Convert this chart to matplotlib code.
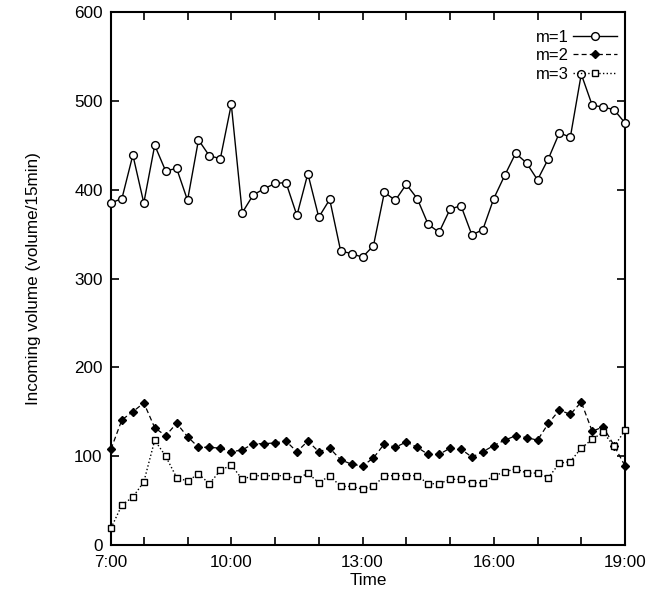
import numpy as np
import matplotlib.pyplot as plt

plt.rcParams['font.family'] = ['Liberation Sans', 'DejaVu Sans']

# 15-minute slots, 7:15 .. 19:00 (minutes after 7:00)
slot_minutes = np.arange(15, 721, 15)

vol_m1 = [385, 390, 439, 385, 450, 421, 424, 388, 456, 438, 435, 496,
          374, 394, 401, 407, 408, 371, 418, 369, 389, 331, 328, 324,
          337, 397, 388, 406, 390, 361, 352, 378, 382, 349, 355, 390,
          416, 441, 430, 411, 435, 464, 459, 530, 495, 493, 490, 475]
vol_m2 = [108, 141, 150, 160, 132, 123, 137, 122, 110, 110, 109, 105,
          107, 114, 114, 115, 117, 105, 117, 105, 109, 96, 91, 89,
          98, 114, 110, 116, 110, 102, 102, 109, 108, 99, 105, 112,
          118, 123, 121, 118, 137, 152, 147, 161, 128, 133, 112, 89]
vol_m3 = [19, 45, 54, 71, 118, 100, 76, 72, 80, 69, 84, 90,
          74, 78, 78, 78, 78, 74, 81, 70, 78, 66, 66, 63,
          66, 78, 78, 78, 78, 69, 69, 74, 74, 70, 70, 78,
          82, 86, 81, 81, 76, 92, 94, 109, 119, 127, 111, 129]

hour_ticks = [15, 60, 120, 180, 240, 300, 360, 420, 480, 540, 600, 660, 720]
hour_labels = ['7:00', '', '', '10:00', '', '', '13:00', '', '', '16:00', '', '', '19:00']

fig = plt.figure(figsize=(6.63, 5.93), dpi=100)
ax = fig.add_axes([0.1674, 0.0809, 0.7753, 0.8989])

ax.plot(slot_minutes, vol_m1, '-', color='black', lw=1.0, marker='o', ms=5.6,
        mfc='white', mec='black', mew=1.0, label='m=1', clip_on=False, zorder=3)
ax.plot(slot_minutes, vol_m2, '--', color='black', lw=0.9, dashes=(4, 2.5), marker='D',
        ms=4.5, mfc='black', mec='black', label='m=2', clip_on=False, zorder=3)
ax.plot(slot_minutes, vol_m3, ':', color='black', lw=1.0, marker='s', ms=4.5,
        mfc='white', mec='black', mew=1.0, label='m=3', clip_on=False, zorder=4)

ax.set_xlim(15, 720)
ax.set_ylim(0, 600)
ax.set_xticks(hour_ticks)
ax.set_xticklabels(hour_labels)
ax.set_yticks(range(0, 601, 100))
ax.tick_params(direction='in', length=6, width=1.2, top=True, right=True,
               labelsize=12.3, colors='black')
ax.tick_params(axis='x', pad=7)
ax.tick_params(axis='y', pad=6)

for s in ax.spines.values():
    s.set_linewidth(1.5)

ax.set_xlabel('Time', fontsize=12.3, labelpad=2)
ax.set_ylabel('Incoming volume (volume/15min)', fontsize=12.3, labelpad=24)

ax.legend(loc='upper right', bbox_to_anchor=(0.984, 0.967), frameon=False,
          markerfirst=False, numpoints=1, fontsize=12, handlelength=2.6,
          handletextpad=0.3, labelspacing=0.22, borderaxespad=0, borderpad=0)

fig.savefig('out.png', dpi=100)
